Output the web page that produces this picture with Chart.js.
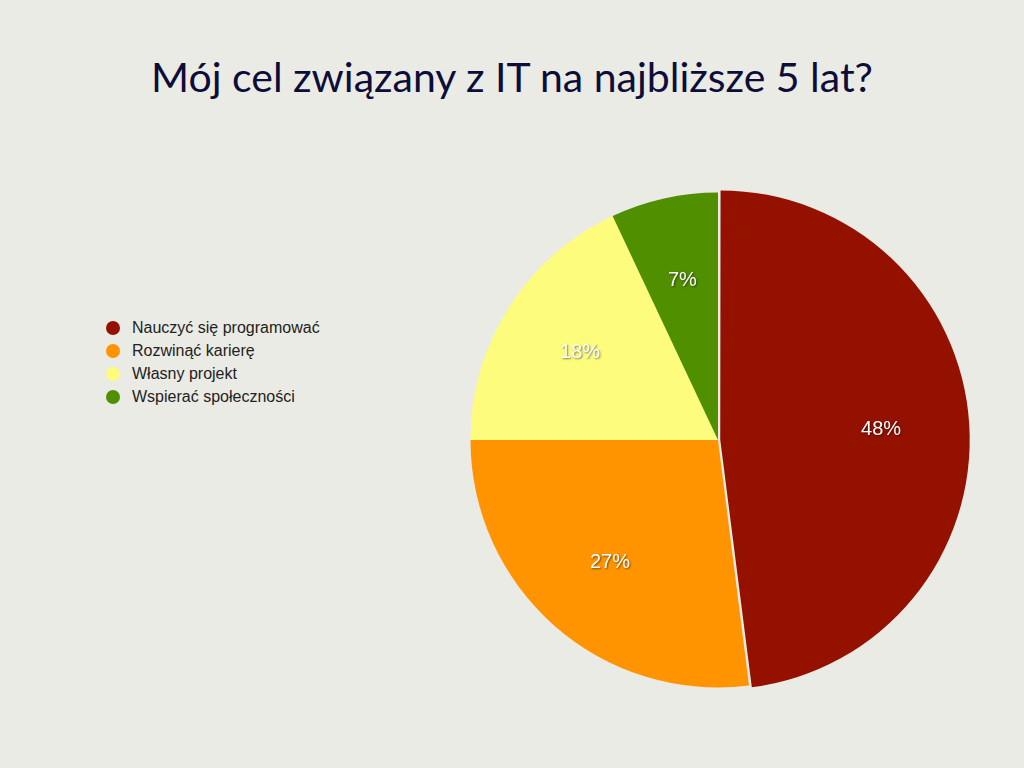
<!DOCTYPE html>
<html><head><meta charset="utf-8">
<script src="https://cdn.jsdelivr.net/npm/chart.js@4"></script>
<style>
html,body{margin:0;padding:0;background:#ebebe5;width:1024px;height:768px;overflow:hidden;font-family:"Liberation Sans",Arial,sans-serif}
#title{position:absolute;top:52px;left:0;width:1024px;text-align:center;font-family:"Lato","Open Sans",sans-serif;font-size:41px;color:#0d0d3a}
#legend{position:absolute;left:106px;top:316px;font-size:16px;color:#222}
#legend div{height:23px;line-height:20px;display:flex;align-items:center}
#legend span.dot{display:inline-block;width:14px;height:14px;border-radius:50%;margin-right:12px}
canvas{position:absolute;left:0;top:0}
</style></head><body>
<div id="title">Mój cel związany z IT na najbliższe 5 lat?</div>
<div id="legend"></div>
<canvas id="c" width="1024" height="768"></canvas>
<script>
const categories=["Nauczyć się programować","Rozwinąć karierę","Własny projekt","Wspierać społeczności"];
const values=[48,27,18,7];
const colors=["#941100","#ff9300","#fefc7c","#4f8f00"];
const lg=document.getElementById('legend');
categories.forEach((c,i)=>{const d=document.createElement('div');d.innerHTML='<span class="dot" style="background:'+colors[i]+'"></span>'+c;lg.appendChild(d);});
const labelsPlugin={id:'lbl',afterDatasetsDraw(ch){const ctx=ch.ctx;const meta=ch.getDatasetMeta(0);ctx.save();ctx.font='20px "Liberation Sans",Arial';ctx.textAlign='center';ctx.textBaseline='middle';ctx.fillStyle='#fff';ctx.shadowColor='rgba(0,0,0,0.5)';ctx.shadowBlur=2;ctx.shadowOffsetX=1;ctx.shadowOffsetY=1;
meta.data.forEach((a,i)=>{const m=(a.startAngle+a.endAngle)/2;const r=a.outerRadius*0.66;ctx.fillText(values[i]+'%',a.x+Math.cos(m)*r,a.y+Math.sin(m)*r);});ctx.restore();}};
new Chart(document.getElementById('c'),{type:'pie',data:{labels:categories,datasets:[{data:values,backgroundColor:colors,borderWidth:0,offset:[9,0,0,0]}]},
options:{responsive:false,animation:false,layout:{padding:{left:466,right:54,top:188,bottom:76}},plugins:{legend:{display:false},tooltip:{enabled:false}}},plugins:[labelsPlugin]});
</script></body></html>
